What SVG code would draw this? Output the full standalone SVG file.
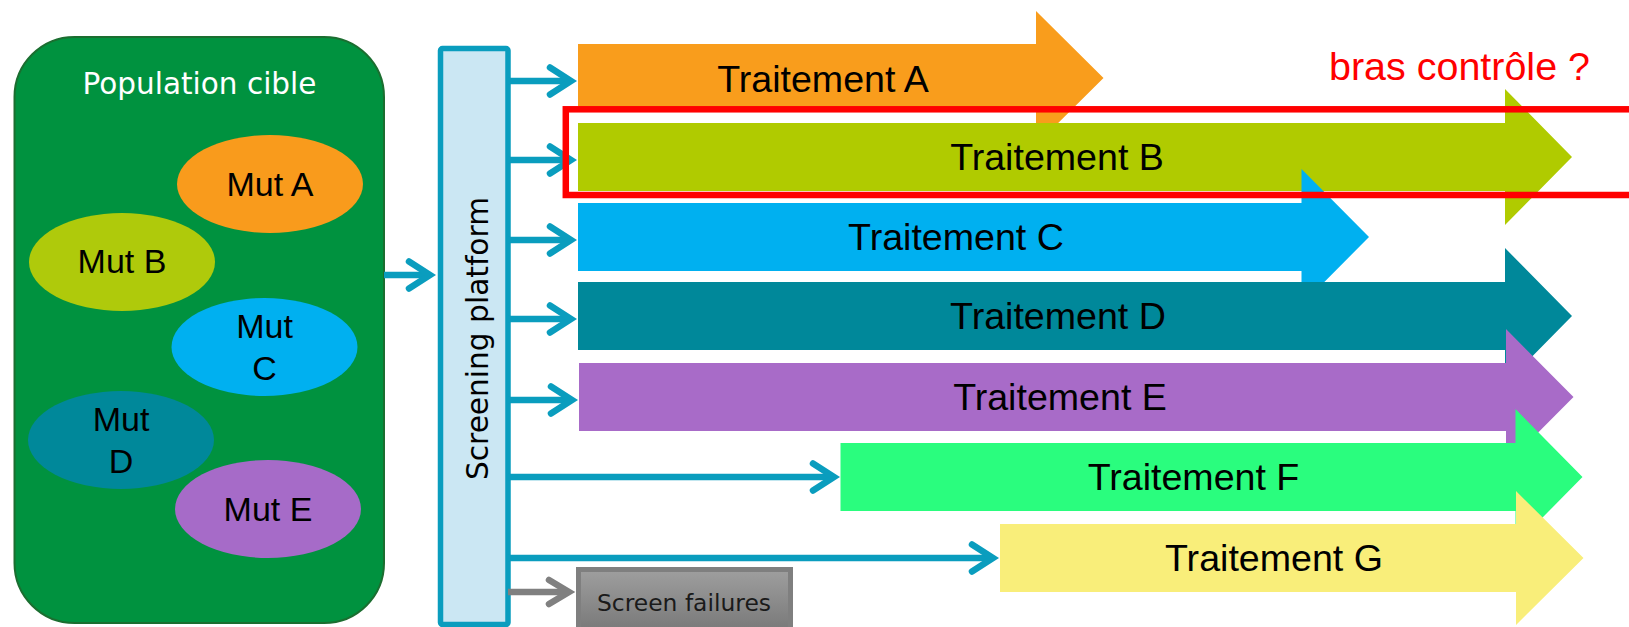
<svg xmlns="http://www.w3.org/2000/svg" width="1629" height="627" viewBox="0 0 1629 627">
<defs>
<linearGradient id="gray" x1="0" y1="0" x2="0" y2="1">
<stop offset="0" stop-color="#9d9d9d"/>
<stop offset="1" stop-color="#787878"/>
</linearGradient>
<style>
.arial{font-family:"Liberation Sans",Arial,sans-serif;}
.verd{font-family:"DejaVu Sans",Verdana,sans-serif;}
.tr{font-size:37.6px;fill:#000;text-anchor:middle;}
.mut{font-size:34px;fill:#000;text-anchor:middle;}
.conn{fill:none;stroke:#0a9dbe;stroke-width:6.5;stroke-linecap:butt;}
.chev{fill:none;stroke:#0a9dbe;stroke-width:6.5;stroke-linecap:round;stroke-linejoin:miter;stroke-miterlimit:10;}
.gconn{fill:none;stroke:#808080;stroke-width:6.5;}
.gchev{fill:none;stroke:#808080;stroke-width:6.5;stroke-linecap:round;stroke-linejoin:miter;stroke-miterlimit:10;}
</style>
</defs>
<rect width="1629" height="627" fill="#fff"/>

<g id="population">
<rect x="14.5" y="37" width="369.5" height="586" rx="60" ry="60" fill="#00923f" stroke="#1b6e30" stroke-width="2"/>
<text class="verd" x="199.5" y="94" font-size="29.5" fill="#fff" text-anchor="middle">Population cible</text>
</g>
<g id="mutA">
<ellipse cx="270" cy="184" rx="93" ry="49" fill="#f99b1c"/>
<text class="arial mut" x="270" y="196">Mut A</text>
</g>
<g id="mutB">
<ellipse cx="122" cy="262" rx="93" ry="49" fill="#afca0b"/>
<text class="arial mut" x="122" y="273">Mut B</text>
</g>
<g id="mutC">
<ellipse cx="264.5" cy="347" rx="93" ry="49" fill="#00b0f0"/>
<text class="arial mut" x="264.5" y="338">Mut</text>
<text class="arial mut" x="264.5" y="380">C</text>
</g>
<g id="mutD">
<ellipse cx="121" cy="440" rx="93" ry="49" fill="#00889a"/>
<text class="arial mut" x="121" y="431">Mut</text>
<text class="arial mut" x="121" y="473">D</text>
</g>
<g id="mutE">
<ellipse cx="268" cy="509" rx="93" ry="49" fill="#a66bc8"/>
<text class="arial mut" x="268" y="521">Mut E</text>
</g>

<g id="screening">
<rect x="440.5" y="48.5" width="67.5" height="576" rx="2" fill="#cbe7f3" stroke="#0a9dbe" stroke-width="5.5"/>
<text class="verd" transform="translate(487.5,338.5) rotate(-90)" font-size="30" fill="#000" text-anchor="middle" textLength="283" lengthAdjust="spacingAndGlyphs">Screening platform</text>
</g>

<g id="traitementA">
<polygon points="578,44 1036,44 1036,11 1103.5,78 1036,145 1036,112 578,112" fill="#f99d1c"/>
<text class="arial tr" x="823" y="92">Traitement A</text>
</g>
<g id="traitementB">
<polygon points="578,123 1505,123 1505,89 1572,157 1505,225 1505,191 578,191" fill="#b0cb00"/>
<text class="arial tr" x="1057" y="170">Traitement B</text>
</g>
<g id="traitementC">
<polygon points="578,203 1301.5,203 1301.5,169 1369,237 1301.5,305 1301.5,271 578,271" fill="#00b0f0"/>
<text class="arial tr" x="956" y="250">Traitement C</text>
</g>
<g id="traitementD">
<polygon points="578,282 1505,282 1505,248 1572,316 1505,384 1505,350 578,350" fill="#00889a"/>
<text class="arial tr" x="1058" y="329">Traitement D</text>
</g>
<g id="traitementE">
<polygon points="579,363 1506,363 1506,329 1573.5,397 1506,465 1506,431 579,431" fill="#a86bc8"/>
<text class="arial tr" x="1060" y="410">Traitement E</text>
</g>
<g id="traitementF">
<polygon points="840.5,443 1515.5,443 1515.5,409 1582.5,477 1515.5,545 1515.5,511 840.5,511" fill="#2afd7e"/>
<text class="arial tr" x="1193.5" y="490">Traitement F</text>
</g>
<g id="traitementG">
<polygon points="1000,524 1516,524 1516,491 1583.5,558 1516,625 1516,592 1000,592" fill="#f9ee7a"/>
<text class="arial tr" x="1274" y="571">Traitement G</text>
</g>

<g id="screenFailures">
<rect x="576" y="567" width="217" height="70" fill="#7f7f7f"/>
<rect x="581" y="572" width="207" height="60" fill="url(#gray)"/>
<text class="verd" x="597" y="611" font-size="23" fill="#1a1a1a" textLength="174" lengthAdjust="spacingAndGlyphs">Screen failures</text>
</g>

<g id="connectors">
<line class="conn" x1="384" y1="275" x2="430" y2="275"/>
<polyline class="chev" points="409,261.5 430,275 409,288.5"/>
<line class="conn" x1="508" y1="81" x2="571" y2="81"/>
<polyline class="chev" points="550,67.5 571,81 550,94.5"/>
<line class="conn" x1="508" y1="160" x2="571" y2="160"/>
<polyline class="chev" points="550,146.5 571,160 550,173.5"/>
<line class="conn" x1="508" y1="240" x2="571" y2="240"/>
<polyline class="chev" points="550,226.5 571,240 550,253.5"/>
<line class="conn" x1="508" y1="319" x2="571" y2="319"/>
<polyline class="chev" points="550,305.5 571,319 550,332.5"/>
<line class="conn" x1="508" y1="400" x2="572" y2="400"/>
<polyline class="chev" points="551,386.5 572,400 551,413.5"/>
<line class="conn" x1="508" y1="477" x2="834" y2="477"/>
<polyline class="chev" points="813,463.5 834,477 813,490.5"/>
<line class="conn" x1="508" y1="558" x2="993" y2="558"/>
<polyline class="chev" points="972,544.5 993,558 972,571.5"/>
<line class="gconn" x1="508" y1="592" x2="569" y2="592"/>
<polyline class="gchev" points="549,580 569,592 549,604"/>
</g>

<g id="controlArm">
<rect x="565.8" y="109.3" width="1080" height="85.7" fill="none" stroke="#ff0000" stroke-width="6.5"/>
<text class="arial" x="1329" y="80" font-size="38" fill="#ff0000" textLength="261" lengthAdjust="spacingAndGlyphs">bras contrôle ?</text>
</g>
</svg>
